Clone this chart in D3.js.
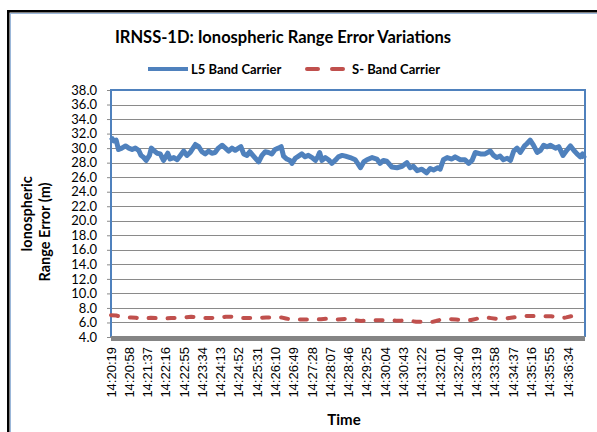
<!DOCTYPE html>
<html>
<head>
<meta charset="utf-8">
<script src="https://cdn.jsdelivr.net/npm/d3@7"></script>
<style>
  body { margin: 0; background: #fff; }
  svg { display: block; }
</style>
</head>
<body>
<div id="holder"></div>
<script>
// chart text
const titleText = "IRNSS-1D: Ionospheric Range Error Variations";
const seriesNames = ["L5 Band Carrier", "S- Band Carrier"];
const startTime = "14:20:19";

// x tick labels (every 39 s)
const timeLabels = ["14:20:19","14:20:58","14:21:37","14:22:16","14:22:55","14:23:34","14:24:13",
  "14:24:52","14:25:31","14:26:10","14:26:49","14:27:28","14:28:07","14:28:46","14:29:25",
  "14:30:04","14:30:43","14:31:22","14:32:01","14:32:40","14:33:19","14:33:58","14:34:37",
  "14:35:16","14:35:55","14:36:34"];
const yTicks = [4,6,8,10,12,14,16,18,20,22,24,26,28,30,32,34,36,38];

// L5 band: seconds after 14:20:19, range error (m)
const l5Sec = [0,6,11,16,23,31,38,45,52,59,64,70,75,82,86,91,98,105,112,121,126,134,141,148,155,
  162,169,180,187,194,201,208,215,222,229,237,244,251,258,265,272,277,283,290,296,304,315,322,329,
  336,343,350,357,363,368,375,382,386,393,400,407,414,421,429,436,441,445,450,457,464,471,478,485,
  493,500,510,521,532,539,546,557,567,574,581,588,599,610,621,631,638,645,653,663,673,681,688,697,
  702,709,717,727,734,745,755,763,770,777,788,798,809,816,823,830,837,845,852,859,866,873,882,887,
  894,901,909,916,923,930,937,948,955,964,971,980,987,994,1001,1006,1010];
const l5Val = [31.5,31.0,31.1,29.8,30.0,30.3,30.0,29.8,30.0,29.7,29.0,28.7,28.3,29.0,30.0,29.7,29.3,
  29.2,28.3,29.3,28.5,28.7,28.4,29.0,29.6,29.0,29.4,30.5,30.2,29.5,29.2,29.6,29.3,29.4,30.0,30.4,
  30.0,29.6,30.0,29.7,30.0,30.2,29.2,29.0,29.5,28.9,28.1,29.0,29.5,29.4,29.2,29.8,30.0,30.2,28.9,
  28.5,28.3,27.9,28.6,28.9,29.2,28.8,29.0,28.7,28.3,28.8,29.4,28.3,28.7,28.4,27.9,28.3,28.8,29.0,
  28.9,28.7,28.4,27.3,28.1,28.4,28.7,28.5,27.9,28.3,28.2,27.4,27.3,27.5,28.0,27.3,27.5,26.9,27.1,
  26.6,27.2,27.0,27.3,27.1,28.4,28.7,28.5,28.8,28.4,28.4,27.9,28.3,29.4,29.2,29.2,29.6,29.0,28.7,
  28.9,28.4,28.6,28.3,29.6,30.0,29.4,30.3,30.6,31.1,30.4,29.4,29.7,30.4,30.2,30.4,30.0,30.2,29.0,
  29.6,30.3,29.7,29.2,28.8,29.2,28.6];

// S band: seconds after 14:20:19, range error (m)
const sSec = [0,11,21,32,43,53,64,75,85,96,107,117,128,139,149,160,171,181,192,203,213,224,235,245,
  256,267,277,288,299,309,320,331,341,352,363,373,384,395,405,416,427,437,448,459,469,480,491,501,
  512,523,533,544,555,565,576,587,597,608,619,629,640,651,661,672,683,693,704,715,725,736,747,757,
  768,779,789,800,811,821,832,843,853,864,875,885,896,907,917,928,939,949,960,971,981,992,1003];
const sVal = [7.0,6.95,6.8,6.7,6.7,6.65,6.5,6.55,6.65,6.6,6.55,6.55,6.6,6.6,6.6,6.7,6.8,6.7,6.6,6.6,
  6.6,6.65,6.7,6.8,6.8,6.7,6.6,6.6,6.6,6.6,6.65,6.7,6.7,6.65,6.7,6.55,6.4,6.4,6.4,6.4,6.4,6.4,6.45,
  6.5,6.4,6.4,6.45,6.5,6.4,6.3,6.2,6.25,6.3,6.3,6.3,6.3,6.3,6.25,6.25,6.3,6.2,6.1,6.1,6.05,6.05,6.2,
  6.4,6.45,6.45,6.4,6.35,6.3,6.35,6.5,6.65,6.7,6.6,6.5,6.5,6.55,6.65,6.75,6.85,6.9,6.9,6.85,6.85,
  6.85,6.85,6.75,6.6,6.7,6.85,6.9,6.85];

const blue = "#4f81bd";
const red = "#c0504d";

const W = 597, H = 432;
const svg = d3.select("#holder").append("svg")
    .attr("width", W)
    .attr("height", H);

// outer chart frame
svg.append("rect").attr("x", 8.25).attr("y", 11.25).attr("width", 640).attr("height", 480)
    .attr("fill", "#fff").attr("stroke", "#000").attr("stroke-width", 2.5);
svg.append("rect").attr("x", 10.5).attr("y", 13.5).attr("width", 640).attr("height", 480)
    .attr("fill", "none").attr("stroke", "#9bb7d9").attr("stroke-width", 1);

const plot = {left: 111, right: 585, top: 90, bottom: 337};

const toSec = s => { let p = s.split(":").map(Number); return p[0]*3600 + p[1]*60 + p[2]; };
const t0 = toSec(startTime);

let x = d3.scaleLinear().domain([0, 1011]).range([plot.left, plot.right]);
let y = d3.scaleLinear().domain([4, 38]).range([plot.bottom, plot.top]);

// gridlines
svg.append("g").selectAll("line").data(yTicks.filter(v => v > 4 && v < 38)).join("line")
    .attr("x1", plot.left).attr("x2", plot.right)
    .attr("y1", d => Math.round(y(d)) + 0.5).attr("y2", d => Math.round(y(d)) + 0.5)
    .attr("stroke", "#8a8a8a").attr("stroke-width", 1);

// y axis
let yAxis = svg.append("g").attr("transform", `translate(${plot.left},0)`)
    .call(d3.axisLeft(y).tickValues(yTicks).tickFormat(d3.format(".1f")).tickSize(4).tickPadding(10));
yAxis.select(".domain").remove();
yAxis.selectAll("line").attr("stroke", "#8a8a8a");
yAxis.selectAll("text").attr("font-family", "Lato, sans-serif").attr("font-size", 13).attr("fill", "#000");

// plot area border (left, top, right)
svg.append("path")
    .attr("d", `M${plot.left},${plot.bottom}V${plot.top}H${plot.right}V${plot.bottom}`)
    .attr("fill", "none").attr("stroke", blue).attr("stroke-width", 2);

// x axis bar
svg.append("line").attr("x1", plot.left).attr("x2", plot.right)
    .attr("y1", plot.bottom + 1.5).attr("y2", plot.bottom + 1.5)
    .attr("stroke", "#858585").attr("stroke-width", 5);

// x tick labels
svg.append("g").selectAll("text").data(timeLabels).join("text")
    .attr("transform", d => `translate(${x(toSec(d) - t0) + 4.5},347) rotate(-90)`)
    .attr("text-anchor", "end")
    .attr("font-family", "'Liberation Sans', Arial, sans-serif")
    .attr("font-size", 13)
    .text(d => d);

// lines
let line = d3.line().x(d => x(d[0])).y(d => y(d[1]));

svg.append("path").datum(sSec.map((s, i) => [s, sVal[i]]))
    .attr("d", line).attr("fill", "none").attr("stroke", red)
    .attr("stroke-width", 4).attr("stroke-linecap", "round").attr("stroke-linejoin", "round")
    .attr("stroke-dasharray", "7,12");

svg.append("path").datum(l5Sec.map((s, i) => [s, l5Val[i]]))
    .attr("d", line).attr("fill", "none").attr("stroke", blue)
    .attr("stroke-width", 5).attr("stroke-linejoin", "round");

// title
svg.append("text").attr("x", 283).attr("y", 43).attr("text-anchor", "middle")
    .attr("font-family", "Lato, sans-serif").attr("font-weight", "bold").attr("font-size", 16.5)
    .text(titleText);

// legend
let legend = svg.append("g").attr("font-family", "Lato, sans-serif")
    .attr("font-weight", "bold").attr("font-size", 13);
legend.append("line").attr("x1", 148).attr("x2", 188).attr("y1", 69).attr("y2", 69)
    .attr("stroke", blue).attr("stroke-width", 4);
legend.append("text").attr("x", 191).attr("y", 73.5).text(seriesNames[0]);
legend.append("line").attr("x1", 307).attr("x2", 343).attr("y1", 69).attr("y2", 69)
    .attr("stroke", red).attr("stroke-width", 4).attr("stroke-linecap", "round")
    .attr("stroke-dasharray", "11,14");
legend.append("text").attr("x", 352).attr("y", 73.5).text(seriesNames[1]);

// axis titles
let yTitle = svg.append("text").attr("transform", "translate(0,0) rotate(-90)")
    .attr("text-anchor", "middle").attr("font-family", "Lato, sans-serif")
    .attr("font-weight", "bold").attr("font-size", 14.5);
yTitle.append("tspan").attr("x", -214).attr("y", 32).text("Ionospheric");
yTitle.append("tspan").attr("x", -232).attr("y", 50).text("Range Error (m)");

svg.append("text").attr("x", 344).attr("y", 425).attr("text-anchor", "middle")
    .attr("font-family", "Lato, sans-serif").attr("font-weight", "bold").attr("font-size", 15)
    .text("Time");
</script>
</body>
</html>
